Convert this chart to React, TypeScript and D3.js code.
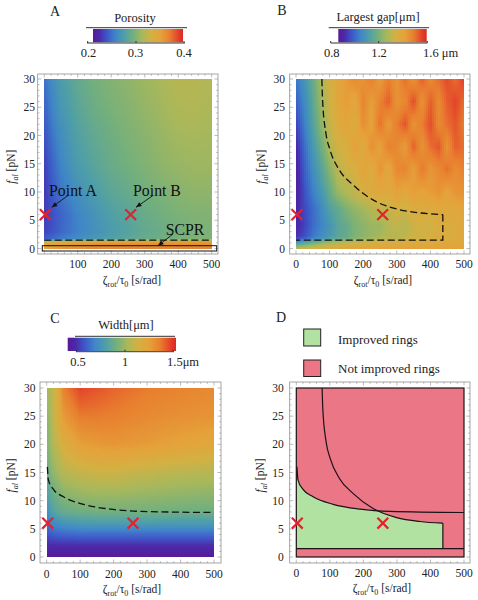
import React from "react";
import * as d3 from "d3";

const paletteStops = [0, 0.07, 0.15, 0.25, 0.35, 0.45, 0.55, 0.65, 0.75, 0.85, 0.95, 1];
const paletteColors = ["#5a189a", "#4a2aa8", "#3e55c8", "#3f86c8", "#4f9fa8", "#74b07c", "#a9b85a", "#d4b042", "#e5a23a", "#e8802f", "#e3402a", "#dc2a22"];

const porosityZ = [0, 25, 50, 100, 150, 200, 250, 300, 350, 400, 450, 500];
const porosityF = [30, 25, 20, 15, 10, 6, 3, 1.7, 1.1, 0];
const porosityGrid = [
  [0.257, 0.27, 0.28, 0.292, 0.3, 0.305, 0.309, 0.314, 0.318, 0.323, 0.323, 0.321],
  [0.252, 0.265, 0.276, 0.288, 0.297, 0.302, 0.306, 0.311, 0.315, 0.32, 0.321, 0.319],
  [0.246, 0.259, 0.27, 0.284, 0.292, 0.298, 0.303, 0.307, 0.312, 0.316, 0.317, 0.316],
  [0.24, 0.253, 0.265, 0.28, 0.288, 0.295, 0.3, 0.304, 0.309, 0.312, 0.314, 0.314],
  [0.238, 0.249, 0.259, 0.272, 0.281, 0.289, 0.294, 0.299, 0.303, 0.307, 0.309, 0.309],
  [0.24, 0.246, 0.253, 0.265, 0.274, 0.283, 0.288, 0.295, 0.299, 0.302, 0.304, 0.305],
  [0.242, 0.247, 0.254, 0.264, 0.272, 0.28, 0.286, 0.292, 0.296, 0.299, 0.302, 0.303],
  [0.25, 0.256, 0.262, 0.27, 0.278, 0.284, 0.29, 0.295, 0.299, 0.302, 0.304, 0.305],
  [0.345, 0.35, 0.352, 0.355, 0.358, 0.36, 0.36, 0.36, 0.36, 0.36, 0.36, 0.36],
  [0.35, 0.355, 0.358, 0.362, 0.365, 0.365, 0.368, 0.368, 0.368, 0.368, 0.368, 0.368],
];

const gapZ = [0, 25, 50, 75, 100, 125, 150, 175, 200, 225, 250, 275, 300, 325, 350, 375, 400, 425, 450, 475, 500];
const gapF = [30, 26, 22, 18, 14, 10, 7, 4, 2, 1, 0];
const gapGrid = [
  [1.02, 1.08, 1.16, 1.26, 1.33, 1.38, 1.42, 1.46, 1.44, 1.48, 1.42, 1.48, 1.44, 1.5, 1.44, 1.52, 1.46, 1.5, 1.54, 1.5, 1.56],
  [0.98, 1.05, 1.14, 1.24, 1.32, 1.38, 1.42, 1.38, 1.47, 1.41, 1.47, 1.52, 1.44, 1.46, 1.54, 1.44, 1.52, 1.46, 1.52, 1.55, 1.5],
  [0.94, 1.03, 1.12, 1.22, 1.3, 1.36, 1.4, 1.36, 1.45, 1.4, 1.5, 1.42, 1.48, 1.53, 1.44, 1.48, 1.54, 1.46, 1.5, 1.53, 1.48],
  [0.9, 1.0, 1.09, 1.17, 1.27, 1.33, 1.34, 1.41, 1.36, 1.45, 1.4, 1.48, 1.46, 1.42, 1.52, 1.44, 1.5, 1.53, 1.44, 1.52, 1.5],
  [0.88, 0.98, 1.06, 1.13, 1.21, 1.29, 1.32, 1.34, 1.4, 1.36, 1.44, 1.38, 1.46, 1.47, 1.41, 1.49, 1.43, 1.46, 1.5, 1.45, 1.48],
  [0.88, 0.96, 1.03, 1.09, 1.16, 1.24, 1.27, 1.3, 1.34, 1.36, 1.38, 1.37, 1.41, 1.38, 1.42, 1.4, 1.42, 1.44, 1.4, 1.44, 1.44],
  [0.9, 0.95, 1.0, 1.05, 1.12, 1.15, 1.2, 1.23, 1.25, 1.28, 1.3, 1.3, 1.34, 1.32, 1.36, 1.36, 1.36, 1.38, 1.38, 1.38, 1.4],
  [0.9, 0.94, 1.0, 1.04, 1.08, 1.14, 1.16, 1.2, 1.22, 1.24, 1.24, 1.28, 1.3, 1.28, 1.32, 1.34, 1.32, 1.36, 1.36, 1.36, 1.38],
  [0.92, 0.96, 1.02, 1.06, 1.1, 1.14, 1.16, 1.2, 1.22, 1.24, 1.26, 1.28, 1.28, 1.3, 1.32, 1.32, 1.34, 1.36, 1.36, 1.36, 1.38],
  [1.1, 1.14, 1.18, 1.22, 1.26, 1.28, 1.3, 1.32, 1.33, 1.34, 1.35, 1.35, 1.36, 1.36, 1.37, 1.37, 1.37, 1.38, 1.38, 1.38, 1.38],
  [1.3, 1.32, 1.34, 1.36, 1.38, 1.38, 1.4, 1.4, 1.4, 1.4, 1.41, 1.41, 1.41, 1.41, 1.41, 1.41, 1.41, 1.41, 1.41, 1.41, 1.41],
];

const widthZ = [0, 10, 25, 50, 100, 150, 200, 300, 400, 500];
const widthF = [30, 25, 20, 15, 10, 8, 6, 4, 2, 0];
const widthGrid = [
  [1.03, 1.06, 1.14, 1.36, 1.47, 1.44, 1.41, 1.37, 1.35, 1.33],
  [0.97, 1.03, 1.14, 1.28, 1.37, 1.37, 1.36, 1.33, 1.31, 1.3],
  [0.94, 1.01, 1.08, 1.17, 1.26, 1.28, 1.29, 1.27, 1.24, 1.21],
  [0.88, 0.95, 1.0, 1.06, 1.1, 1.12, 1.12, 1.09, 1.07, 1.06],
  [0.78, 0.84, 0.88, 0.93, 0.96, 0.97, 0.97, 0.96, 0.95, 0.94],
  [0.72, 0.79, 0.84, 0.88, 0.9, 0.91, 0.91, 0.91, 0.9, 0.9],
  [0.63, 0.69, 0.72, 0.75, 0.78, 0.79, 0.79, 0.79, 0.78, 0.78],
  [0.57, 0.59, 0.61, 0.62, 0.63, 0.63, 0.63, 0.63, 0.63, 0.63],
  [0.48, 0.49, 0.49, 0.49, 0.49, 0.49, 0.49, 0.49, 0.49, 0.49],
  [0.42, 0.42, 0.42, 0.42, 0.42, 0.42, 0.42, 0.42, 0.42, 0.42],
];

const gapCurve: [number, number][] = [[77, 30], [79, 26.3], [89, 20.4], [101, 17.5], [129, 13.9], [169, 11.3], [229, 8.6], [299, 7], [369, 6.3], [437, 6]];
const gapCurveClose: [number, number][] = [[437, 6], [437, 1.5], [0, 1.5]];
const widthCurve: [number, number][] = [[2, 16], [5, 13.7], [20, 12], [50, 10.7], [110, 9.35], [190, 8.5], [280, 8.1], [500, 7.9]];
const improvedEdge: [number, number][] = [[0, 14], [5, 13.7], [20, 12], [50, 10.7], [110, 9.35], [190, 8.5], [245, 8.2], [299, 7], [369, 6.3], [437, 5.9]];
const crossesZ = [3, 258];
const crossF = 6;
const xTicks = [0, 100, 200, 300, 400, 500];
const yTicks = [0, 5, 10, 15, 20, 25, 30];
const fontFamily = "'Liberation Serif', serif";
const ink = "#222";

type Geo = { fx0: number; fx1: number; fy0: number; fy1: number; x0: number; x1: number; y30: number; y0: number };
const geoA: Geo = { fx0: 37.7, fx1: 218, fy0: 74, fy1: 254, x0: 44.3, x1: 211.7, y30: 79, y0: 248.5 };
const geoB: Geo = { fx0: 289.7, fx1: 470, fy0: 74, fy1: 254, x0: 296, x1: 464, y30: 79, y0: 248.5 };
const geoC: Geo = { fx0: 40, fx1: 221, fy0: 382, fy1: 563, x0: 46.7, x1: 214, y30: 388, y0: 557 };
const geoD: Geo = { fx0: 289.7, fx1: 470, fy0: 382, fy1: 563, x0: 296.3, x1: 464, y30: 388, y0: 557 };

function scales(g: Geo) {
  return {
    x: d3.scaleLinear().domain([0, 500]).range([g.x0, g.x1]),
    y: d3.scaleLinear().domain([0, 30]).range([g.y0, g.y30]),
  };
}

const t2c = d3.scaleLinear<string>().domain(paletteStops).range(paletteColors).clamp(true);

function Heat({ g, zs, fs, grid, lo, hi }: { g: Geo; zs: number[]; fs: number[]; grid: number[][]; lo: number; hi: number }) {
  const { x, y } = scales(g);
  const ascF = [...fs].reverse();
  const val = (z: number, f: number) => {
    const i = Math.min(Math.max(d3.bisectRight(zs, z) - 1, 0), zs.length - 2);
    const jAsc = Math.min(Math.max(d3.bisectRight(ascF, f) - 1, 0), ascF.length - 2);
    const tz = (z - zs[i]) / (zs[i + 1] - zs[i]);
    const tf = (f - ascF[jAsc]) / (ascF[jAsc + 1] - ascF[jAsc]);
    const rowLo = grid[fs.length - 1 - jAsc];
    const rowHi = grid[fs.length - 2 - jAsc];
    const a = rowLo[i] + (rowLo[i + 1] - rowLo[i]) * tz;
    const b = rowHi[i] + (rowHi[i + 1] - rowHi[i]) * tz;
    return a + (b - a) * tf;
  };
  const step = 2;
  const cols = d3.range(g.x0, g.x1, step);
  const rows = d3.range(g.y30, g.y0, step);
  return (
    <g shapeRendering="crispEdges">
      {rows.map((py) =>
        cols.map((px) => {
          const v = val(x.invert(px + step / 2), y.invert(py + step / 2));
          return <rect key={px + "_" + py} x={px} y={py} width={Math.min(step + 0.5, g.x1 - px)} height={Math.min(step + 0.5, g.y0 - py)} fill={t2c((v - lo) / (hi - lo))} />;
        })
      )}
    </g>
  );
}

function AxisLabels({ g, yLabelX, yEnd, xTickY, xLabel, showZero = true }: { g: Geo; yLabelX: number; yEnd: number; xTickY: number; xLabel: [number, number]; showZero?: boolean }) {
  const { x, y } = scales(g);
  const yc = (g.y0 + g.y30) / 2 + 3;
  return (
    <g fontFamily={fontFamily} fill={ink} fontSize={11.5}>
      {xTicks.filter((t) => showZero || t > 0).map((t) => (
        <text key={t} x={x(t)} y={xTickY} textAnchor="middle" dominantBaseline="central">{t}</text>
      ))}
      {yTicks.map((t) => (
        <text key={t} x={yEnd} y={y(t)} textAnchor="end" dominantBaseline="central">{t}</text>
      ))}
      <text x={xLabel[0]} y={xLabel[1]} textAnchor="middle" fontSize={11.5}>
        ζ<tspan fontSize={8} dy={2.5}>rot</tspan><tspan dy={-2.5}>/τ</tspan><tspan fontSize={8} dy={2.5}>0</tspan><tspan dy={-2.5}> [s/rad]</tspan>
      </text>
      <text transform={`translate(${yLabelX},${yc}) rotate(-90)`} textAnchor="middle" fontSize={11.5}>
        <tspan fontStyle="italic">f</tspan><tspan fontStyle="italic" fontSize={8} dy={2.5}>al</tspan><tspan dy={-2.5}> [pN]</tspan>
      </text>
    </g>
  );
}

function Frame({ g }: { g: Geo }) {
  const { x, y } = scales(g);
  const c = "#8f8f8f";
  const xMinor = d3.range(0, 501, 20);
  const yMinor = d3.range(0, 31, 1);
  return (
    <g stroke={c} strokeWidth={0.6} fill="none">
      <rect x={g.fx0} y={g.fy0} width={g.fx1 - g.fx0} height={g.fy1 - g.fy0} strokeWidth={0.8} />
      {xMinor.map((t) => {
        const l = t % 100 === 0 ? 3.5 : 1.8;
        return <path key={t} d={`M${x(t)},${g.fy0}v${l}M${x(t)},${g.fy1}v${-l}`} />;
      })}
      {yMinor.map((t) => {
        const l = t % 5 === 0 ? 3.5 : 1.8;
        return <path key={t} d={`M${g.fx0},${y(t)}h${l}M${g.fx1},${y(t)}h${-l}`} />;
      })}
    </g>
  );
}

function Crosses({ g }: { g: Geo }) {
  const { x, y } = scales(g);
  const r = 5.4;
  return (
    <g stroke="#e8202e" strokeWidth={2.2} fill="none">
      {crossesZ.map((z) => (
        <path key={z} d={`M${x(z) - r},${y(crossF) - r}L${x(z) + r},${y(crossF) + r}M${x(z) - r},${y(crossF) + r}L${x(z) + r},${y(crossF) - r}`} />
      ))}
    </g>
  );
}

function ColorBar({ bar, barY, top, bottom, ticks, title, titleX, titleY, labelY }: {
  bar: [number, number]; barY: [number, number]; top: [number, number, number]; bottom: [number, number, number];
  ticks: { x: number; label: string; lx: number; anchor?: string }[]; title: string; titleX: number; titleY: number; labelY: number;
}) {
  const id = "grad" + title.charCodeAt(0);
  return (
    <g fontFamily={fontFamily} fill={ink}>
      <defs>
        <linearGradient id={id}>
          {paletteStops.map((s, i) => <stop key={s} offset={s} stopColor={paletteColors[i]} />)}
        </linearGradient>
      </defs>
      <rect x={bar[0]} y={barY[0]} width={bar[1] - bar[0]} height={barY[1] - barY[0]} fill={`url(#${id})`} />
      <line x1={top[0]} x2={top[1]} y1={top[2]} y2={top[2]} stroke="#333" strokeWidth={1} />
      <line x1={bottom[0]} x2={bottom[1]} y1={bottom[2]} y2={bottom[2]} stroke="#333" strokeWidth={1} />
      {ticks.map((t) => (
        <g key={t.label}>
          <line x1={t.x} x2={t.x} y1={bottom[2] - 2} y2={bottom[2]} stroke="#333" />
          <text x={t.lx} y={labelY} fontSize={12.5} textAnchor={t.anchor || "middle"} dominantBaseline="central">{t.label}</text>
        </g>
      ))}
      <text x={titleX} y={titleY} fontSize={12.5} textAnchor="middle" dominantBaseline="central">{title}</text>
    </g>
  );
}

function Panel({ g, letter, lx, ly }: { g: Geo; letter: string; lx: number; ly: number }) {
  return <text x={lx} y={ly} fontFamily={fontFamily} fontSize={14} fill={ink} textAnchor="middle" dominantBaseline="central">{letter}</text>;
}

function Arrow({ from, to }: { from: [number, number]; to: [number, number] }) {
  const a = Math.atan2(to[1] - from[1], to[0] - from[0]);
  const l = 6, w = 0.4;
  return (
    <g>
      <line x1={from[0]} y1={from[1]} x2={to[0]} y2={to[1]} stroke="#111" strokeWidth={0.9} />
      <path fill="#111" d={`M${to[0]},${to[1]}L${to[0] - l * Math.cos(a - w)},${to[1] - l * Math.sin(a - w)}L${to[0] - l * Math.cos(a + w)},${to[1] - l * Math.sin(a + w)}Z`} />
    </g>
  );
}

export default function App() {
  const sa = scales(geoA), sb = scales(geoB), sc = scales(geoC), sd = scales(geoD);
  const mk = (s: { x: any; y: any }, curve: any = d3.curveMonotoneX) =>
    d3.line<[number, number]>().x((d) => s.x(d[0])).y((d) => s.y(d[1])).curve(curve);
  const linearB = mk(sb, d3.curveLinear);
  const dash = { fill: "none", stroke: "#111", strokeWidth: 1.3, strokeDasharray: "7 3.5" };
  const greenArea = d3.area<[number, number]>().x((d) => sd.x(d[0])).y0(sd.y(1.5)).y1((d) => sd.y(d[1])).curve(d3.curveMonotoneX);
  return (
    <svg width={478} height={600} style={{ position: "absolute", left: 0, top: 0, background: "#fff" }}>
      {/* A */}
      <Panel g={geoA} letter="A" lx={55} ly={11} />
      <ColorBar bar={[93, 183]} barY={[29, 42.3]} top={[86, 187, 27.7]} bottom={[87, 185, 43]}
        ticks={[{ x: 87.7, label: "0.2", lx: 88.5 }, { x: 136, label: "0.3", lx: 135.5 }, { x: 184, label: "0.4", lx: 184 }]}
        title="Porosity" titleX={135} titleY={17.5} labelY={52.5} />
      <Heat g={geoA} zs={porosityZ} fs={porosityF} grid={porosityGrid} lo={0.222} hi={0.396} />
      <Frame g={geoA} />
      <AxisLabels g={geoA} yLabelX={15} yEnd={35} xTickY={264} xLabel={[132, 284]} showZero={false} />
      <line x1={sa.x(0)} x2={sa.x(500)} y1={sa.y(1.5)} y2={sa.y(1.5)} {...dash} />
      <rect x={42.3} y={245.7} width={174.4} height={5.3} fill="none" stroke="#111" strokeWidth={1} />
      <Crosses g={geoA} />
      <g fontFamily={fontFamily} fontSize={15.8} fill="#111" textAnchor="middle" dominantBaseline="central">
        <text x={73} y={190}>Point A</text>
        <text x={157} y={190}>Point B</text>
        <text x={185} y={229}>SCPR</text>
      </g>
      <Arrow from={[67.7, 195.7]} to={[51.7, 207.3]} />
      <Arrow from={[152.7, 195.7]} to={[136, 207.3]} />
      <Arrow from={[173, 234]} to={[158, 245.7]} />

      {/* B */}
      <Panel g={geoB} letter="B" lx={282} ly={10} />
      <ColorBar bar={[338.3, 426.7]} barY={[29, 42.3]} top={[328.7, 429, 27.7]} bottom={[330.7, 427.3, 43]}
        ticks={[{ x: 330.7, label: "0.8", lx: 331.7 }, { x: 378.7, label: "1.2", lx: 379 }, { x: 427.3, label: "1.6 μm", lx: 423, anchor: "start" }]}
        title="Largest gap[μm]" titleX={378} titleY={17} labelY={52.5} />
      <Heat g={geoB} zs={gapZ} fs={gapF} grid={gapGrid} lo={0.86} hi={1.59} />
      <Frame g={geoB} />
      <AxisLabels g={geoB} yLabelX={265} yEnd={285} xTickY={264} xLabel={[383, 284]} />
      <path d={(mk(sb)(gapCurve) || "") + (linearB(gapCurveClose) || "")} {...dash} />
      <Crosses g={geoB} />

      {/* C */}
      <Panel g={geoC} letter="C" lx={55} ly={318} />
      <ColorBar bar={[67.7, 176]} barY={[337.7, 351]} top={[75, 175, 336.3]} bottom={[76, 174, 351.7]}
        ticks={[{ x: 76.3, label: "0.5", lx: 78 }, { x: 125, label: "1", lx: 125 }, { x: 173, label: "1.5μm", lx: 167, anchor: "start" }]}
        title="Width[μm]" titleX={126} titleY={325} labelY={362} />
      <Heat g={geoC} zs={widthZ} fs={widthF} grid={widthGrid} lo={0.41} hi={1.53} />
      <Frame g={geoC} />
      <AxisLabels g={geoC} yLabelX={15} yEnd={35.5} xTickY={574} xLabel={[132, 593]} />
      <path d={mk(sc)(widthCurve) || ""} {...dash} />
      <Crosses g={geoC} />

      {/* D */}
      <Panel g={geoD} letter="D" lx={281} ly={317} />
      <rect x={303.7} y={329} width={17} height={17} fill="#b2e2a2" stroke="#222" strokeWidth={1} />
      <rect x={303.7} y={360} width={17} height={16.5} fill="#ea7686" stroke="#222" strokeWidth={1} />
      <g fontFamily={fontFamily} fontSize={13} fill={ink} dominantBaseline="central">
        <text x={338} y={339}>Improved rings</text>
        <text x={338} y={368}>Not improved rings</text>
      </g>
      <rect x={geoD.x0} y={geoD.y30} width={geoD.x1 - geoD.x0} height={geoD.y0 - geoD.y30} fill="#ea7686" />
      <path d={greenArea(improvedEdge) || ""} fill="#b2e2a2" />
      <Frame g={geoD} />
      <AxisLabels g={geoD} yLabelX={264} yEnd={283.7} xTickY={573} xLabel={[382, 592]} />
      <g fill="none" stroke="#1a1218" strokeWidth={1.2}>
        <rect x={geoD.x0} y={geoD.y30} width={geoD.x1 - geoD.x0} height={geoD.y0 - geoD.y30} />
        <path d={mk(sd)(gapCurve) || ""} />
        <path d={mk(sd)(widthCurve) || ""} />
        <line x1={sd.x(0)} x2={sd.x(500)} y1={sd.y(1.5)} y2={sd.y(1.5)} />
        <line x1={sd.x(437)} x2={sd.x(437)} y1={sd.y(1.5)} y2={sd.y(6)} />
      </g>
      <Crosses g={geoD} />
    </svg>
  );
}
